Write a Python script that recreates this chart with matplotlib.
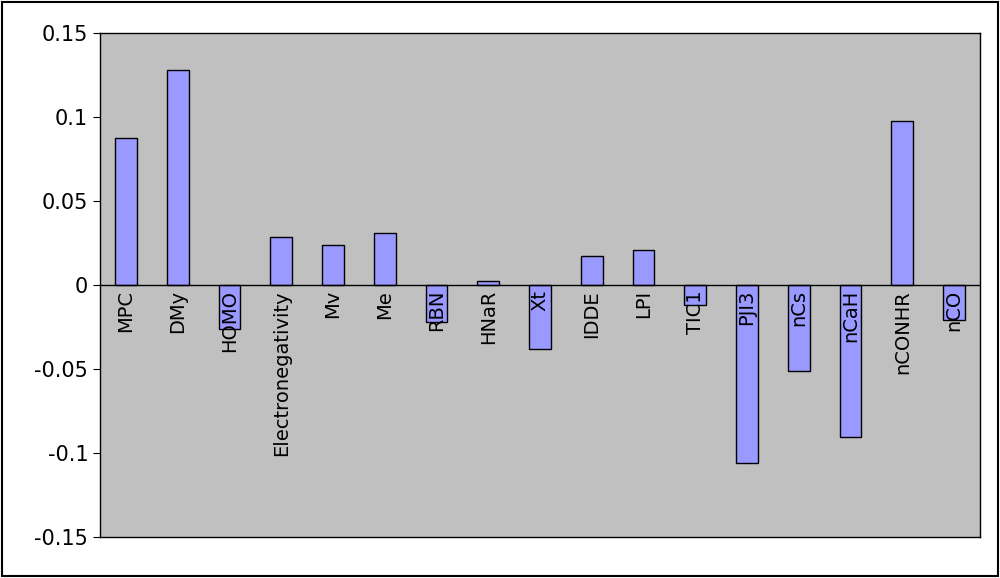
import matplotlib.pyplot as plt
import matplotlib.patches as mpatches

names = ["MPC", "DMy", "HOMO", "Electronegativity", "Mv", "Me", "RBN", "HNaR", "Xt",
         "IDDE", "LPI", "TIC1", "PJI3", "nCs", "nCaH", "nCONHR", "nCO"]
values = [0.0875, 0.128, -0.026, 0.0285, 0.0235, 0.031, -0.022, 0.0025, -0.038,
          0.0175, 0.021, -0.012, -0.106, -0.051, -0.0905, 0.0975, -0.021]

fig = plt.figure(figsize=(10, 5.78), dpi=100)
fig.patches.append(mpatches.Rectangle((0.002, 0.003), 0.996, 0.994, transform=fig.transFigure,
                                      fill=False, edgecolor="black", linewidth=1.5))
ax = fig.add_axes([0.1, 0.071, 0.88, 0.872])
ax.set_facecolor("#C0C0C0")
x = range(len(names))
ax.bar(x, values, width=0.42, color="#9999FF", edgecolor="black", linewidth=1, zorder=2)
ax.axhline(0, color="black", linewidth=1, zorder=3)
for i, n in enumerate(names):
    ax.text(i, -0.003, n, rotation=90, ha="center", va="top", fontsize=14, zorder=4)
ax.set_xlim(-0.5, len(names) - 0.5)
ax.set_ylim(-0.15, 0.15)
ax.set_yticks([-0.15, -0.1, -0.05, 0, 0.05, 0.1, 0.15])
ax.set_yticklabels(["-0.15", "-0.1", "-0.05", "0", "0.05", "0.1", "0.15"], fontsize=15)
ax.tick_params(axis="y", length=5, direction="out")
ax.set_xticks([])
for s in ax.spines.values():
    s.set_linewidth(1)
fig.savefig("out.png")
